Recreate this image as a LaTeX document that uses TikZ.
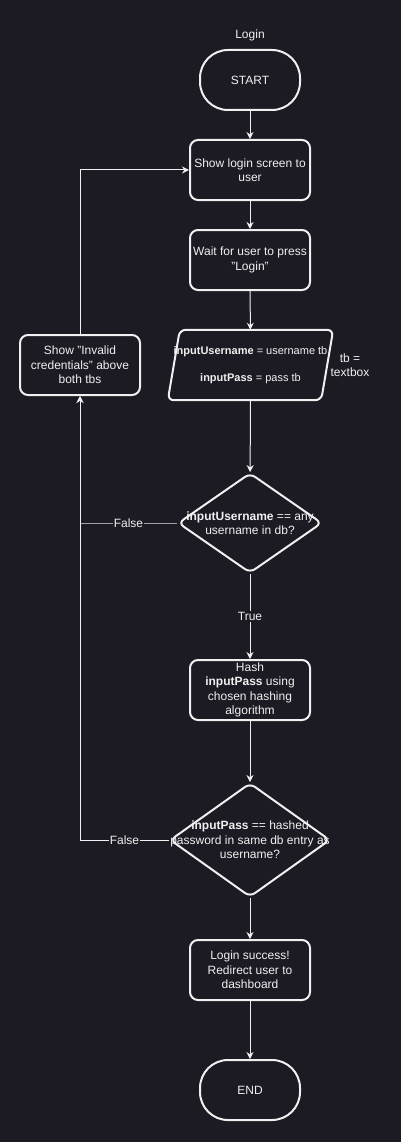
\documentclass[tikz,border=0pt]{standalone}
\usepackage{fontspec}
\setmainfont{Liberation Sans}
\usetikzlibrary{shapes.geometric,arrows.meta,calc}
\definecolor{canvas}{HTML}{1C1A22}
\definecolor{ink}{HTML}{F0F0F0}
\definecolor{dimink}{HTML}{A0A0A4}

\begin{document}
\begin{tikzpicture}[x=1pt,y=-1pt,
  every node/.style={text=ink, font=\fontsize{12}{14.5}\selectfont, align=center, inner sep=0pt},
  smalltext/.style={font=\fontsize{11}{14}\selectfont},
  shapeline/.style={draw=ink, line width=2pt},
  terminal/.style={shapeline, rounded corners=28pt, minimum width=100pt, minimum height=60pt},
  process/.style={shapeline, rounded corners=8pt, minimum width=120pt, minimum height=60pt},
  decision/.style={shapeline, diamond, rounded corners=6pt, inner sep=0pt},
  flow/.style={draw=ink, line width=1pt, -{Stealth[length=7pt,width=7pt]}},
  edgelabel/.style={fill=canvas, inner sep=1pt}
]
\fill[canvas] (0,0) rectangle (401,1142);
\useasboundingbox (0,0) rectangle (401,1142);

% title
\node (title) at (250,35) {Login};

% main column
\node[terminal] (start) at (250,80) {START};
\node[process] (show) at (250,170) {Show login screen to\\user};
\node[process] (wait) at (250,260) {Wait for user to press\\"Login"};

% input (parallelogram drawn around a plain node)
\node[smalltext, minimum width=165pt, minimum height=70pt] (io) at (250.5,365)
  {\textbf{inputUsername} = username tb\\[13pt]\textbf{inputPass} = pass tb};
\draw[shapeline, rounded corners=6pt]
  ($(io.north west)+(12,0)$) -- (io.north east) -- ($(io.south east)+(-12,0)$) -- (io.south west) -- cycle;
\node (note) at (350,365) {tb =\\textbox};

% first decision
\node[decision, minimum width=144pt, minimum height=100pt] (d1) at (250,523) {};
\node (d1text) at (d1.center) {\textbf{inputUsername} == any\\username in db?};

\node[process] (hash) at (250,690) {Hash\\\textbf{inputPass} using\\chosen hashing\\algorithm};

% second decision
\node[decision, minimum width=160pt, minimum height=114pt] (d2) at (250,840) {};
\node (d2text) at (d2.center) {\textbf{inputPass} == hashed\\password in same db entry as\\username?};

\node[process] (ok) at (250,970) {Login success!\\Redirect user to\\dashboard};
\node[terminal] (end) at (250,1090) {END};

% error box on the left
\node[process] (inv) at (80,365) {Show "Invalid\\credentials" above\\both tbs};

% connectors
\draw[flow] (start) -- (show);
\draw[flow] (show) -- (wait);
\draw[flow] (wait) -- (io);
\draw[flow] (io) -- (d1);
\draw[flow] (d1) -- node[edgelabel] (truelbl) {True} (hash);
\draw[flow] (hash) -- (d2);
\draw[flow] (d2) -- (ok);
\draw[flow] (ok) -- (end);

\draw[flow, draw=dimink] (d1.west) -- node[edgelabel] (false1) {False} (inv.south |- d1.west) -- (inv.south);
\draw[flow] (d2.west) -- node[edgelabel] (false2) {False} (inv.south |- d2.west) -- (inv.south);
\draw[flow] (inv.north) |- (show.west);
\end{tikzpicture}
\end{document}
